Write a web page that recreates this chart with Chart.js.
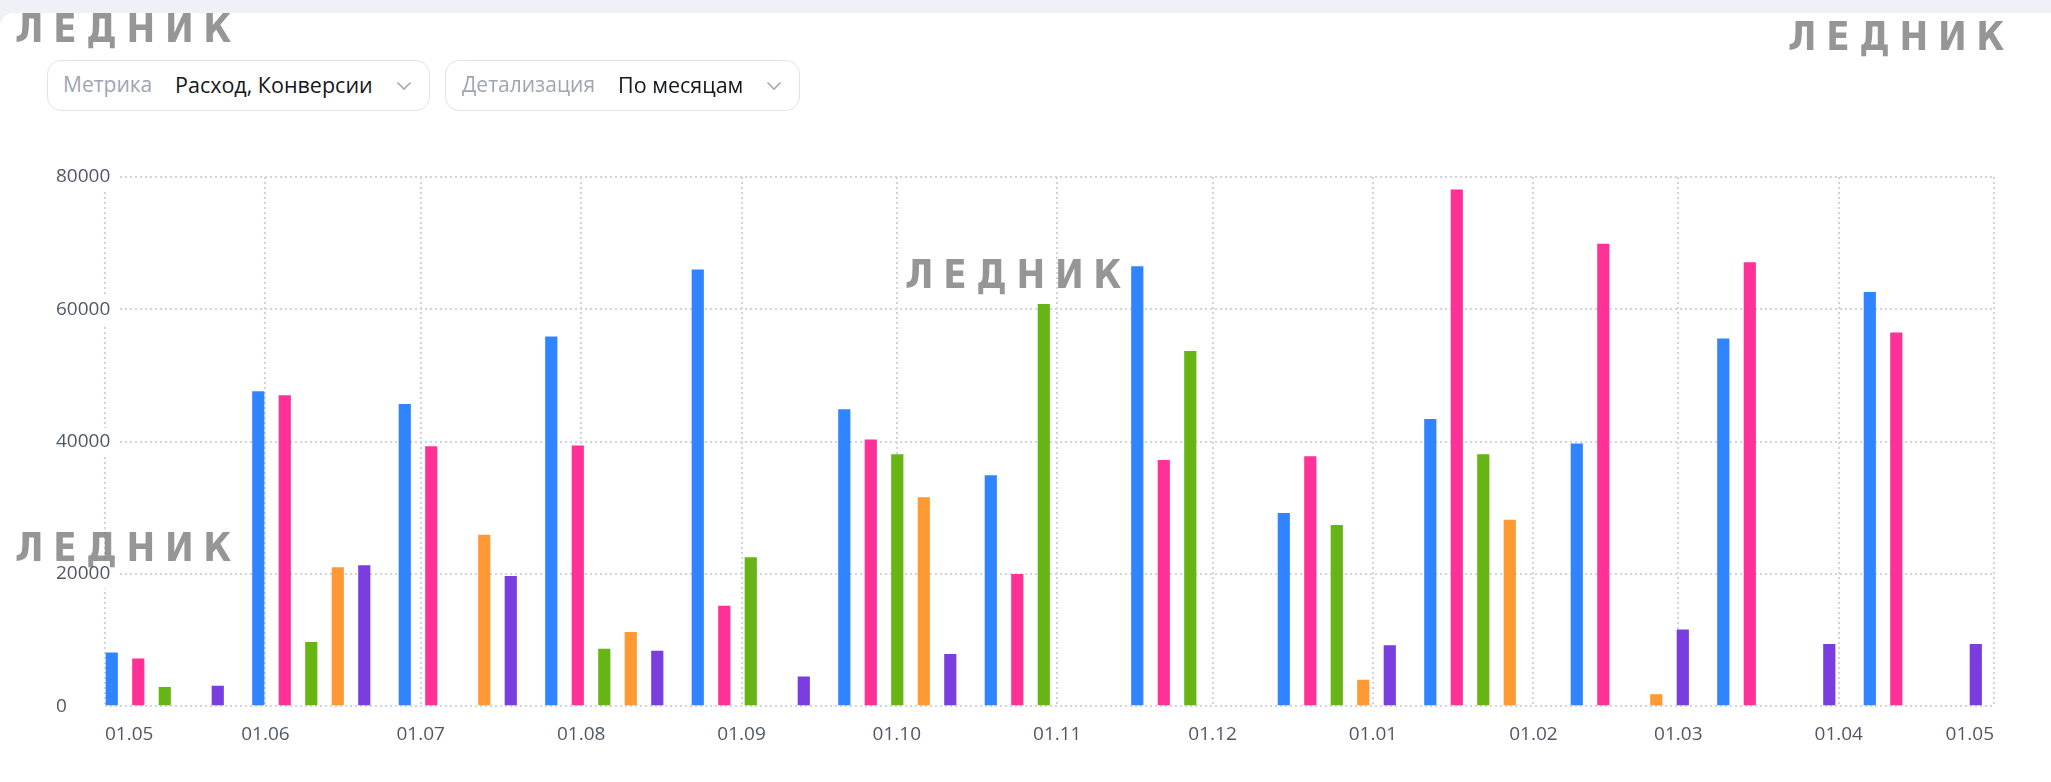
<!DOCTYPE html>
<html>
<head>
<meta charset="utf-8">
<script src="https://cdn.jsdelivr.net/npm/chart.js@4.4.1/dist/chart.umd.min.js"></script>
<style>
  html, body { margin:0; padding:0; width:2051px; height:782px; overflow:hidden; background:#eef1f6; font-family:"Open Sans", sans-serif; }
  #card { position:absolute; left:0; top:13px; width:2051px; height:769px; background:#fff; border-top-left-radius:14px; }
  #cv { position:absolute; left:0; top:0; }
  .dd { position:absolute; top:60px; height:51px; box-sizing:border-box; border:1.5px solid #dfe3ea; border-radius:14px; background:#fff; }
  .t { position:absolute; font-size:21px; line-height:21px; white-space:nowrap; }
  .k { color:#9ea5b3; }
  .v { color:#15171c; font-size:21.5px; }
  .chev { position:absolute; }
  .wm { position:absolute; font-family:"DejaVu Sans", sans-serif; font-weight:700; font-size:39px; line-height:39px;
        color:rgba(100,100,100,0.68); letter-spacing:11px; transform:scaleX(0.88); transform-origin:0 0; white-space:nowrap; }
</style>
</head>
<body>
<div id="card"></div>
<canvas id="cv" width="2051" height="782"></canvas>

<div class="dd" style="left:47px;width:383px;"></div>
<span class="t k" style="left:63px;top:74px;">Метрика</span>
<span class="t v" style="left:175px;top:74px;">Расход, Конверсии</span>
<svg class="chev" style="left:396px;top:81px;" width="16" height="10"><polyline points="1.5,1.5 8,8 14.5,1.5" fill="none" stroke="#a3a9b5" stroke-width="1.6"/></svg>

<div class="dd" style="left:445px;width:355px;"></div>
<span class="t k" style="left:462px;top:74px;">Детализация</span>
<span class="t v" style="left:618px;top:74px;">По месяцам</span>
<svg class="chev" style="left:766px;top:81px;" width="16" height="10"><polyline points="1.5,1.5 8,8 14.5,1.5" fill="none" stroke="#a3a9b5" stroke-width="1.6"/></svg>

<div class="wm" style="left:15px;top:9px;">ЛЕДНИК</div>
<div class="wm" style="left:1788px;top:17px;">ЛЕДНИК</div>
<div class="wm" style="left:905px;top:255px;">ЛЕДНИК</div>
<div class="wm" style="left:15px;top:528px;">ЛЕДНИК</div>

<script>
// ---- data ----
const groups = ['Май','Июнь','Июль','Август','Сентябрь','Октябрь','Ноябрь','Декабрь','Январь','Февраль','Март','Апрель','Май'];
const seriesNames = ['Расход','Конверсии 1','Конверсии 2','Конверсии 3','Конверсии 4'];
const blueValues   = [8100, 47600, 45700, 55900, 66000, 44900, 34900, 66500, 29200, 43400, 39700, 55600, 62600];
const pinkValues   = [7200, 47000, 39300, 39400, 15200, 40300, 20000, 37200, 37800, 78100, 69900, 67100, 56500];
const greenValues  = [2900, 9700, null, 8700, 22500, 38100, 60800, 53700, 27400, 38100, null, null, null];
const orangeValues = [null, 21000, 25900, 11200, null, 31600, null, null, 4000, 28200, 1800, null, null];
const purpleValues = [3100, 21300, 19700, 8400, 4500, 7900, null, null, 9200, null, 11600, 9400, 9400];
const tickDays   = [0, 31, 61, 92, 123, 153, 184, 214, 245, 276, 304, 335, 365];
const tickLabels = ['01.05','01.06','01.07','01.08','01.09','01.10','01.11','01.12','01.01','01.02','01.03','01.04','01.05'];
const yTicks = [0, 20000, 40000, 60000, 80000];

const colors = ['#3184ff', '#ff3196', '#66b514', '#ff9933', '#7a3ee0'];
const allValues = [blueValues, pinkValues, greenValues, orangeValues, purpleValues];

const gridColor = '#d0d4e0';
const labelColor = '#505868';
const tickFont = { family: 'Open Sans', size: 19 };

const datasets = allValues.map((vals, k) => ({
  label: seriesNames[k],
  data: vals.map((v, i) => ({ x: i, y: v })),
  backgroundColor: colors[k],
  borderWidth: 0,
  xAxisID: 'xb',
  yAxisID: 'y',
  categoryPercentage: 0.9044,
  barPercentage: 0.46
}));

new Chart(document.getElementById('cv'), {
  type: 'bar',
  data: { datasets },
  options: {
    responsive: false,
    animation: false,
    devicePixelRatio: 1,
    layout: { padding: { left: 105, top: 177, right: 57, bottom: 19 } },
    plugins: { legend: { display: false }, tooltip: { enabled: false } },
    scales: {
      x: {
        type: 'linear', position: 'bottom', min: 0, max: 365, offset: false,
        afterBuildTicks: s => { s.ticks = tickDays.map(v => ({ value: v })); },
        ticks: { autoSkip: false, maxRotation: 0, align: 'inner', padding: 17, color: labelColor, font: tickFont,
                 callback: (v, i) => tickLabels[i] },
        grid: { color: gridColor, lineWidth: 2, drawTicks: false, offset: false },
        border: { display: false, dash: [2, 3] }
      },
      y: {
        position: 'left', min: 0, max: 80000,
        afterBuildTicks: s => { s.ticks = yTicks.map(v => ({ value: v })); },
        afterFit: s => { s.width = 0; },
        ticks: { mirror: true, crossAlign: 'near', padding: -49, color: labelColor, font: tickFont,
                 callback: v => String(v),
                 showLabelBackdrop: true, backdropColor: '#ffffff',
                 backdropPadding: { top: 2, bottom: 3, left: 0, right: 7 } },
        grid: { color: gridColor, lineWidth: 2, drawTicks: false },
        border: { display: false, dash: [2, 3] }
      },
      xb: {
        type: 'linear', display: false, min: -0.408, max: 12.486, offset: false,
        grid: { offset: false },
        afterBuildTicks: s => { s.ticks = groups.map((g, i) => ({ value: i })); }
      }
    }
  }
});
</script>
</body>
</html>
